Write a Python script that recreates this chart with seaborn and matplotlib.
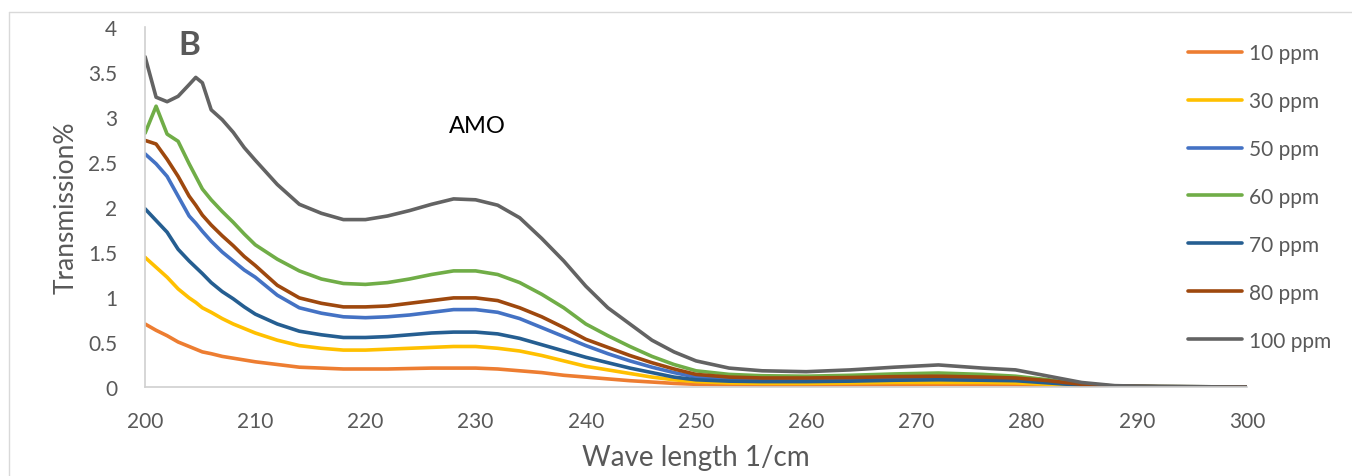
"""
UV spectra of AMO at different concentrations (panel B).
"""

import matplotlib.pyplot as plt
import matplotlib.lines as mlines
import pandas as pd
import seaborn as sns

# Data
wavelength = [200, 201, 202, 203, 204, 204.6, 205.2, 206, 207, 208, 209, 210, 212, 214,
              216, 218, 220, 222, 224, 226, 228, 230, 232, 234, 236, 238, 240, 242,
              244, 246, 248, 250, 253, 256, 260, 264, 268, 272, 276, 279, 282, 285,
              288, 292, 300]

ppm_10 = [0.70, 0.63, 0.57, 0.50, 0.45, 0.42, 0.39, 0.37, 0.34, 0.32, 0.30, 0.28, 0.25,
          0.22, 0.21, 0.20, 0.20, 0.20, 0.205, 0.21, 0.21, 0.21, 0.20, 0.18, 0.16, 0.13,
          0.11, 0.09, 0.07, 0.055, 0.04, 0.03, 0.025, 0.02, 0.02, 0.022, 0.025, 0.028,
          0.026, 0.024, 0.015, 0.008, 0.003, 0.001, 0.0]
ppm_30 = [1.44, 1.33, 1.22, 1.09, 0.99, 0.94, 0.88, 0.83, 0.76, 0.70, 0.65, 0.60, 0.52,
          0.46, 0.43, 0.41, 0.41, 0.42, 0.43, 0.44, 0.45, 0.45, 0.43, 0.40, 0.35, 0.29,
          0.23, 0.19, 0.15, 0.11, 0.08, 0.06, 0.045, 0.04, 0.04, 0.045, 0.05, 0.05,
          0.05, 0.045, 0.03, 0.015, 0.006, 0.002, 0.0]
ppm_50 = [2.59, 2.48, 2.34, 2.12, 1.90, 1.82, 1.73, 1.62, 1.50, 1.40, 1.30, 1.22, 1.02,
          0.88, 0.82, 0.78, 0.77, 0.78, 0.80, 0.83, 0.86, 0.86, 0.83, 0.76, 0.66, 0.56,
          0.46, 0.37, 0.29, 0.22, 0.16, 0.11, 0.09, 0.08, 0.08, 0.085, 0.095, 0.10,
          0.09, 0.08, 0.055, 0.02, 0.01, 0.005, 0.0]
ppm_60 = [2.82, 3.12, 2.81, 2.73, 2.48, 2.34, 2.20, 2.08, 1.95, 1.83, 1.70, 1.58, 1.42,
          1.29, 1.20, 1.15, 1.14, 1.16, 1.20, 1.25, 1.29, 1.29, 1.25, 1.16, 1.03, 0.88,
          0.70, 0.57, 0.45, 0.34, 0.25, 0.18, 0.14, 0.125, 0.12, 0.13, 0.145, 0.155,
          0.14, 0.12, 0.08, 0.03, 0.01, 0.005, 0.0]
ppm_70 = [1.98, 1.85, 1.72, 1.53, 1.40, 1.33, 1.26, 1.16, 1.06, 0.98, 0.89, 0.81, 0.70,
          0.62, 0.58, 0.55, 0.55, 0.56, 0.58, 0.60, 0.61, 0.61, 0.59, 0.54, 0.47, 0.40,
          0.33, 0.27, 0.21, 0.16, 0.11, 0.08, 0.065, 0.06, 0.06, 0.065, 0.075, 0.08,
          0.075, 0.07, 0.045, 0.02, 0.008, 0.003, 0.0]
ppm_80 = [2.74, 2.70, 2.53, 2.34, 2.12, 2.02, 1.91, 1.80, 1.68, 1.57, 1.45, 1.35, 1.13,
          0.99, 0.93, 0.89, 0.89, 0.90, 0.93, 0.96, 0.99, 0.99, 0.96, 0.88, 0.78, 0.66,
          0.53, 0.44, 0.35, 0.27, 0.20, 0.14, 0.11, 0.10, 0.10, 0.105, 0.115, 0.12,
          0.11, 0.10, 0.07, 0.03, 0.01, 0.005, 0.0]
ppm_100 = [3.67, 3.22, 3.17, 3.23, 3.36, 3.44, 3.38, 3.08, 2.97, 2.83, 2.66, 2.52, 2.25,
           2.03, 1.93, 1.86, 1.86, 1.90, 1.96, 2.03, 2.09, 2.08, 2.02, 1.88, 1.65, 1.40,
           1.12, 0.88, 0.70, 0.52, 0.39, 0.29, 0.21, 0.18, 0.17, 0.19, 0.22, 0.245,
           0.21, 0.19, 0.12, 0.05, 0.015, 0.005, 0.0]

series_names = ['10 ppm', '30 ppm', '50 ppm', '60 ppm', '70 ppm', '80 ppm', '100 ppm']
series_values = [ppm_10, ppm_30, ppm_50, ppm_60, ppm_70, ppm_80, ppm_100]
colors = ['#ED7D31', '#FFC000', '#4472C4', '#70AD47', '#255E91', '#9E480E', '#636363']

frames = []
for name, vals in zip(series_names, series_values):
    frames.append(pd.DataFrame({'wavelength': wavelength, 'transmission': vals, 'conc': name}))
df = pd.concat(frames, ignore_index=True)

sns.set_style('white')
plt.rcParams['font.family'] = ['Lato', 'DejaVu Sans']

grey = '#595959'
fig = plt.figure(figsize=(13.52, 4.77), dpi=100)
ax = fig.add_axes([0.1073, 0.1866, 0.8150, 0.7547])

sns.lineplot(data=df, x='wavelength', y='transmission', hue='conc',
             hue_order=series_names, palette=colors, linewidth=2.6,
             legend=False, ax=ax)
for line in ax.get_lines():
    line.set_solid_joinstyle('round')
    line.set_solid_capstyle('round')

ax.set_xlim(200, 300)
ax.set_ylim(0, 4)
ax.set_xticks(range(200, 301, 10))
ax.set_yticks([0, 0.5, 1, 1.5, 2, 2.5, 3, 3.5, 4])
ax.set_yticklabels(['0', '0.5', '1', '1.5', '2', '2.5', '3', '3.5', '4'])
ax.tick_params(axis='both', length=0, labelsize=15, labelcolor=grey)
ax.tick_params(axis='x', pad=17)
ax.tick_params(axis='y', pad=20)

for side in ['top', 'right']:
    ax.spines[side].set_visible(False)
for side in ['left', 'bottom']:
    ax.spines[side].set_color('#d0d0d0')
    ax.spines[side].set_linewidth(1.2)

ax.set_xlabel('Wave length 1/cm', fontsize=20, color=grey, labelpad=10)
ax.set_ylabel('Transmission%', fontsize=19, color=grey, labelpad=7)

ax.text(203.0, 3.8, 'B', fontsize=24, fontweight='bold', color=grey, va='center')
ax.text(230.2, 2.9, 'AMO', fontsize=17, color='black', ha='center', va='center')

# legend
handles = [mlines.Line2D([], [], color=c, linewidth=2.6) for c in colors]
fig.legend(handles, series_names, loc='upper left', bbox_to_anchor=(0.865, 0.947),
           frameon=False, fontsize=15, labelcolor=grey, handlelength=2.6,
           handletextpad=0.3, labelspacing=1.34)

# chart border
fig.add_artist(mlines.Line2D([9 / 1352, 9 / 1352], [0, 1 - 13 / 477],
                             color='#d9d9d9', linewidth=1))
fig.add_artist(mlines.Line2D([9 / 1352, 1], [1 - 13 / 477, 1 - 13 / 477],
                             color='#d9d9d9', linewidth=1))

plt.savefig('out.png', dpi=100)
plt.close()
